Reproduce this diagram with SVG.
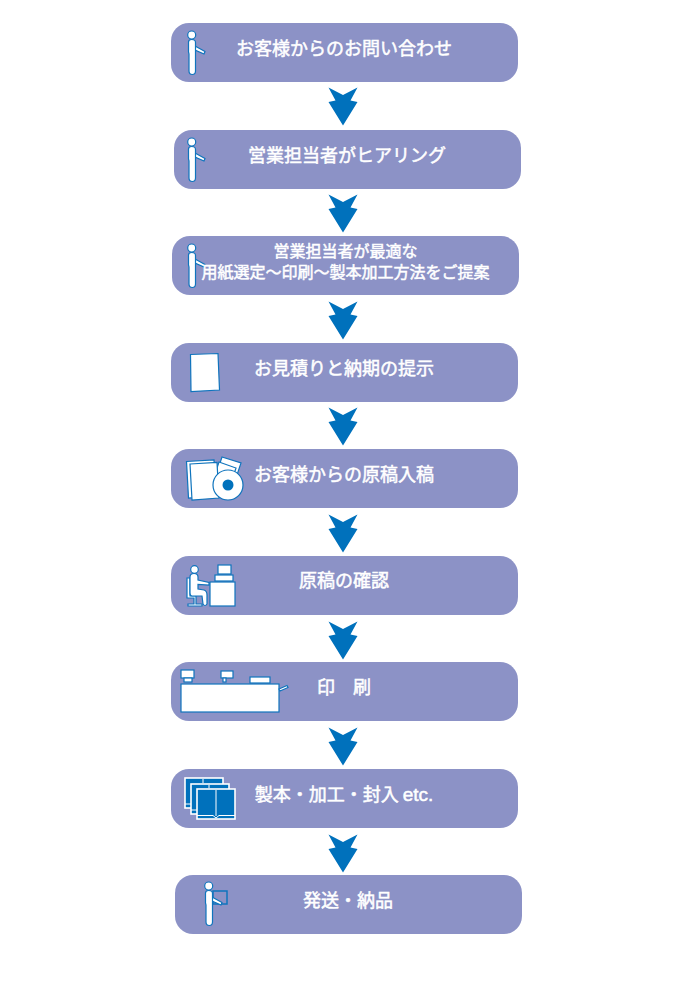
<svg xmlns="http://www.w3.org/2000/svg" width="700" height="994" viewBox="0 0 700 994">
<style>
.box{fill:#8c92c6}
.t{font-family:"Noto Sans CJK JP","Noto Sans",sans-serif;font-size:18px;font-weight:400;fill:#fff;stroke:#fff;stroke-width:.5px;text-anchor:middle}
.s{font-size:16px}
.i{fill:#fff;stroke:#0f74bd;stroke-width:1.2px}
.f{fill:#0071bc;stroke:#fff;stroke-width:1.6px}
</style>
<defs>
<polygon id="arrow" points="328.500,87.500 343,95 357.500,87.500 350.500,100.500 357.500,102 343,125.500 328.500,102 335.500,100.500" fill="#0071bc"/>
<g id="person">
<path class="i" d="M195,46 L205,51.500 L204,54 L195,50 Z"/>
<path class="i" d="M188.500,42 Q188.500,39.500 191.700,39.500 Q195.500,39.500 195.500,42.500 L195.500,71 Q195.500,74.500 192.300,74.500 Q189,74.500 189,71 L189,54 L188.500,52 Z"/>
<circle class="i" cx="191.700" cy="35" r="4"/>
</g>
</defs>
<g id="connectors">
<use href="#arrow"/>
<use href="#arrow" y="107"/>
<use href="#arrow" y="214"/>
<use href="#arrow" y="320"/>
<use href="#arrow" y="427"/>
<use href="#arrow" y="534"/>
<use href="#arrow" y="640"/>
<use href="#arrow" y="747"/>
</g>
<g id="node1">
<rect class="box" x="171" y="23" width="347" height="59" rx="18"/>
<use href="#person"/>
<text class="t" x="344" y="55">お客様からのお問い合わせ</text>
</g>
<g id="node2">
<rect class="box" x="174" y="130" width="347" height="59" rx="18"/>
<use href="#person" y="107"/>
<text class="t" x="347" y="162">営業担当者がヒアリング</text>
</g>
<g id="node3">
<rect class="box" x="172" y="236" width="347" height="59" rx="18"/>
<use href="#person" y="213"/>
<text class="t s" x="345.500" y="257">営業担当者が最適な<tspan x="345.500" dy="21">用紙選定～印刷～製本加工方法をご提案</tspan></text>
</g>
<g id="node4">
<rect class="box" x="171" y="343" width="347" height="59" rx="18"/>
<polygon class="i" points="190.500,354.500 218,353.500 219.500,390 191,391.500"/>
<text class="t" x="344" y="375">お見積りと納期の提示</text>
</g>
<g id="node5">
<rect class="box" x="171" y="449" width="347" height="59" rx="18"/>
<polygon class="i" points="222,457 241,463 236,478 217,472"/>
<polygon class="i" points="219,462 236,468 232,480 215,474"/>
<polygon class="i" points="186.500,461.500 214,460 216,496 188.500,498"/>
<polygon class="i" points="190,464 217,462.500 219,498 192,500"/>
<circle class="i" cx="228" cy="485" r="15"/>
<circle cx="228" cy="485" r="5.500" fill="#0071bc"/>
<text class="t" x="344" y="481">お客様からの原稿入稿</text>
</g>
<g id="node6">
<rect class="box" x="171" y="556" width="347" height="59" rx="18"/>
<rect class="i" x="218" y="565" width="13" height="9"/>
<rect class="i" x="215" y="575" width="18" height="6"/>
<rect class="i" x="210" y="582" width="25" height="24"/>
<path class="i" d="M187,578 H190 V596 H196 V604 H202 V606 H188 V604 H194 V598 H187 Z"/>
<path class="i" d="M190,577 Q190,573.500 194,573.500 Q198,573.500 198,577 L198,580 L209,582.500 L209,585 L198,584.500 L198,589 L204,590 Q207,591 207,595 L207,604 Q205,607 203,604 L202,596 L192,596 Q190,596 190,593 Z"/>
<circle class="i" cx="194.500" cy="569.500" r="3.800"/>
<text class="t" x="344" y="587">原稿の確認</text>
</g>
<g id="node7">
<rect class="box" x="171" y="662" width="347" height="59" rx="18"/>
<rect class="i" x="181" y="670" width="13" height="8"/>
<rect class="i" x="184" y="678" width="8" height="4"/>
<rect class="i" x="221" y="671" width="12" height="7"/>
<rect class="i" x="223" y="678" width="3" height="4"/>
<rect class="i" x="250" y="677" width="20" height="6"/>
<rect class="i" x="181" y="684" width="98" height="28"/>
<polygon points="279,689 287,685.500 288,687.500 280,691" class="i"/>
<text class="t" x="344" y="694">印　刷</text>
</g>
<g id="node8">
<rect class="box" x="171" y="769" width="347" height="59" rx="18"/>
<g id="book">
<rect class="f" x="185" y="778" width="38" height="30"/>
<rect class="f" x="191" y="784" width="38" height="30"/>
<rect class="f" x="197" y="789" width="38" height="30"/>
<path fill="none" stroke="#fff" stroke-width="1" d="M216,790 V816 M197,815.500 H213 L216,818 L219,815.500 H235 M185,804 H191 M191,810 H197 M203,779 V783 M209,785 V788"/>
</g>
<text class="t" x="344" y="801">製本・加工・封入 <tspan font-family="Liberation Sans" font-size="19">etc.</tspan></text>
</g>
<g id="node9">
<rect class="box" x="175" y="875" width="347" height="59" rx="18"/>
<rect x="213" y="891" width="14" height="13" fill="#8c92c6" stroke="#0f74bd" stroke-width="1.500"/>
<use href="#person" x="17" y="851"/>
<text class="t" x="348" y="907">発送・納品</text>
</g>
</svg>
